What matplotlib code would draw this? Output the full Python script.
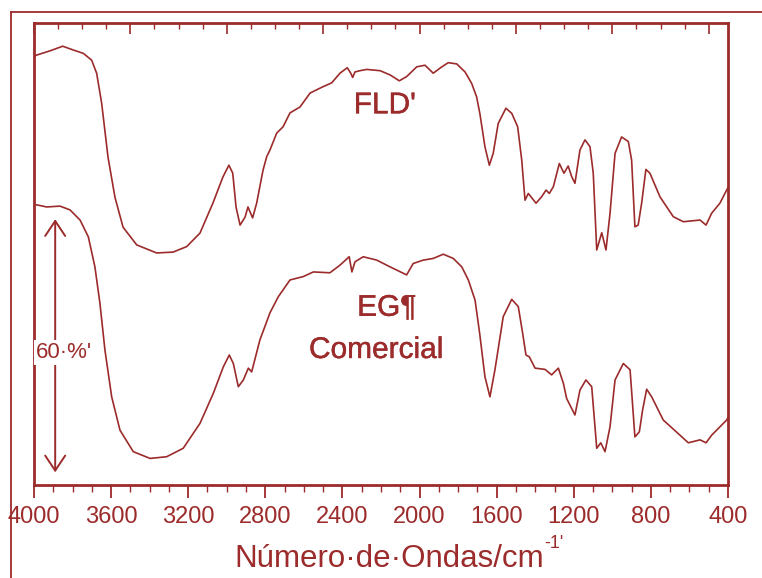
"""
FTIR: FLD vs EG comercial (transmitancia)
"""

import matplotlib.pyplot as plt
import matplotlib.patheffects as pe
from matplotlib.ticker import MultipleLocator
from matplotlib.lines import Line2D

plt.rcParams['font.family'] = ['Liberation Sans', 'DejaVu Sans']

COLOR = '#9C2B2B'

# espectro FLD (número de onda, % T con desplazamiento)
fld_wn = [4000, 3986, 3917, 3851, 3796, 3744, 3701, 3675, 3649, 3616, 3580, 3538,
          3467, 3364, 3279, 3208, 3139, 3072, 3020, 2989, 2969, 2952, 2931, 2905,
          2890, 2866, 2845, 2812, 2793, 2776, 2741, 2708, 2672, 2620, 2568, 2501,
          2456, 2413, 2375, 2357, 2347, 2335, 2309, 2274, 2205, 2153, 2105, 2067,
          2015, 1972, 1929, 1885, 1851, 1807, 1764, 1730, 1704, 1687, 1661, 1638,
          1618, 1592, 1552, 1522, 1491, 1470, 1453, 1436, 1396, 1367, 1344, 1327,
          1306, 1275, 1251, 1229, 1211, 1194, 1168, 1142, 1116, 1099, 1081, 1055,
          1033, 1012, 986, 952, 917, 900, 883, 866, 848, 826, 805, 753, 684, 632,
          545, 514, 485, 442, 407, 400]
fld_t = [101.6, 101.9, 102.9, 104.0, 103.1, 102.3, 100.7, 97.6, 90.5, 77.7, 68.2, 61.1,
         56.9, 55.0, 55.2, 56.5, 59.7, 66.8, 73.0, 75.8, 73.9, 65.9, 61.6, 63.5,
         65.9, 63.3, 66.8, 74.6, 77.8, 79.4, 83.4, 84.9, 88.2, 89.6, 92.9, 94.4,
         95.3, 97.6, 98.9, 97.6, 96.6, 97.9, 98.2, 98.5, 98.2, 97.2, 95.8, 96.8,
         99.1, 99.5, 97.6, 99.1, 100.1, 99.8, 97.9, 95.2, 92.0, 88.0, 80.2, 75.8,
         78.6, 85.7, 89.3, 88.1, 84.9, 77.0, 67.5, 69.1, 66.8, 68.3, 69.9, 69.1,
         70.7, 76.2, 73.9, 75.6, 73.1, 71.5, 79.4, 81.8, 80.2, 73.9, 55.7, 59.8,
         55.7, 64.4, 78.6, 82.5, 81.4, 77.0, 61.2, 61.6, 66.8, 74.8, 73.9, 68.3,
         63.6, 62.4, 62.8, 61.6, 64.4, 66.8, 69.9, 70.5]

# espectro EG comercial
eg_wn = [4000, 3986, 3934, 3865, 3813, 3761, 3718, 3684, 3658, 3632, 3597, 3554,
         3485, 3398, 3312, 3226, 3139, 3070, 3018, 2987, 2966, 2940, 2914, 2888,
         2871, 2828, 2776, 2733, 2672, 2603, 2551, 2465, 2413, 2365, 2351, 2335,
         2292, 2222, 2153, 2067, 2033, 1981, 1929, 1877, 1825, 1781, 1747, 1712,
         1687, 1661, 1635, 1609, 1566, 1522, 1488, 1465, 1448, 1431, 1401, 1349,
         1315, 1280, 1254, 1237, 1194, 1168, 1137, 1107, 1081, 1060, 1038, 1012,
         986, 943, 908, 883, 860, 843, 822, 796, 736, 649, 606, 545, 514, 485,
         407, 400]
eg_t = [66.4, 66.4, 65.9, 66.1, 65.2, 62.8, 58.8, 51.7, 43.1, 32.0, 20.9, 13.0,
        7.9, 6.3, 6.7, 8.7, 14.6, 21.7, 28.0, 30.8, 28.8, 23.3, 24.9, 27.7,
        26.8, 34.4, 40.8, 44.6, 48.6, 49.4, 50.5, 50.3, 52.1, 54.1, 50.5, 52.9,
        54.1, 53.3, 51.7, 49.8, 52.5, 53.3, 53.7, 54.7, 53.7, 51.7, 48.6, 43.8,
        35.5, 25.7, 20.9, 27.3, 39.9, 44.0, 42.3, 35.9, 30.8, 30.4, 27.7, 27.4,
        26.1, 27.7, 24.1, 20.5, 16.6, 22.5, 24.9, 23.3, 8.7, 10.0, 7.9, 13.8,
        24.9, 28.8, 27.3, 11.4, 12.6, 17.8, 22.7, 20.9, 15.4, 11.8, 10.0, 10.7,
        10.0, 11.8, 15.4, 16.0]

x_ticks = [4000, 3600, 3200, 2800, 2400, 2000, 1600, 1200, 800, 400]

# barra de escala 60 %
scale_x = 3890
scale_lo = 3
scale_len = 60


def main():
    fig = plt.figure(figsize=(7.62, 5.78), dpi=100)
    ax = fig.add_axes([0.0446, 0.1609, 0.9108, 0.7993])

    ax.plot(fld_wn, fld_t, color=COLOR, lw=1.2)
    ax.plot(eg_wn, eg_t, color=COLOR, lw=1.2)

    ax.set_xlim(4000, 400)
    ax.set_ylim(0, 109.5)

    for s in ax.spines.values():
        s.set_color(COLOR)
        s.set_linewidth(2.0)

    ax.set_yticks([])
    ax.set_xticks(x_ticks)
    ax.xaxis.set_minor_locator(MultipleLocator(100))
    ax.tick_params(axis='x', which='major', direction='out', length=9, width=1.3,
                   color=COLOR, labelcolor=COLOR, labelsize=17, pad=6)
    ax.tick_params(axis='x', which='minor', direction='out', length=5, width=1.0,
                   color=COLOR)
    for lab in ax.get_xticklabels():
        lab.set_family(['Liberation Sans Narrow', 'Liberation Sans', 'DejaVu Sans'])

    # eje superior con otra escala de marcas
    top = ax.secondary_xaxis('top')
    top.xaxis.set_major_locator(MultipleLocator(500))
    top.xaxis.set_minor_locator(MultipleLocator(125))
    top.tick_params(which='major', direction='in', length=8, width=1.2, color=COLOR,
                    labeltop=False)
    top.tick_params(which='minor', direction='in', length=4, width=1.0, color=COLOR)
    top.spines['top'].set_visible(False)

    xl = ax.set_xlabel('Número·de·Ondas/cm', fontsize=22.5, color=COLOR)
    ax.xaxis.set_label_coords(0.5115, -0.128)
    ax.xaxis.label.set_va('top')
    ax.annotate("-1'", xy=(1, 1), xycoords=xl, xytext=(0, -6),
                textcoords='offset points', ha='left', va='bottom',
                fontsize=13, color=COLOR)

    # etiquetas algo más gruesas que la fuente regular
    thick = [pe.withStroke(linewidth=0.3, foreground=COLOR)]
    ax.text(2180, 90, "FLD'", fontsize=21.5, color=COLOR, ha='center', va='center',
            path_effects=thick)
    ax.text(2170, 42, 'EG¶', fontsize=21.5, color=COLOR, ha='center', va='center',
            path_effects=thick)
    ax.text(2225, 32, 'Comercial', fontsize=21.5, color=COLOR, ha='center', va='center',
            path_effects=thick)

    ax.annotate('', xy=(scale_x, scale_lo), xytext=(scale_x, scale_lo + scale_len),
                arrowprops=dict(arrowstyle='<->,head_length=0.6,head_width=0.4',
                                color=COLOR, lw=1.4, mutation_scale=18,
                                shrinkA=0, shrinkB=0))
    ax.text(3845, 31.5, "60·%'", fontsize=16, color=COLOR, ha='center', va='center',
            bbox=dict(facecolor='white', edgecolor='none', pad=1.5))

    # marco exterior
    fig.add_artist(Line2D([11 / 762, 11 / 762], [0, 1 - 12 / 578], color=COLOR, lw=1.3))
    fig.add_artist(Line2D([11 / 762, 1], [1 - 12 / 578, 1 - 12 / 578], color=COLOR, lw=1.3))

    fig.savefig('out.png', dpi=100)


if __name__ == '__main__':
    main()
